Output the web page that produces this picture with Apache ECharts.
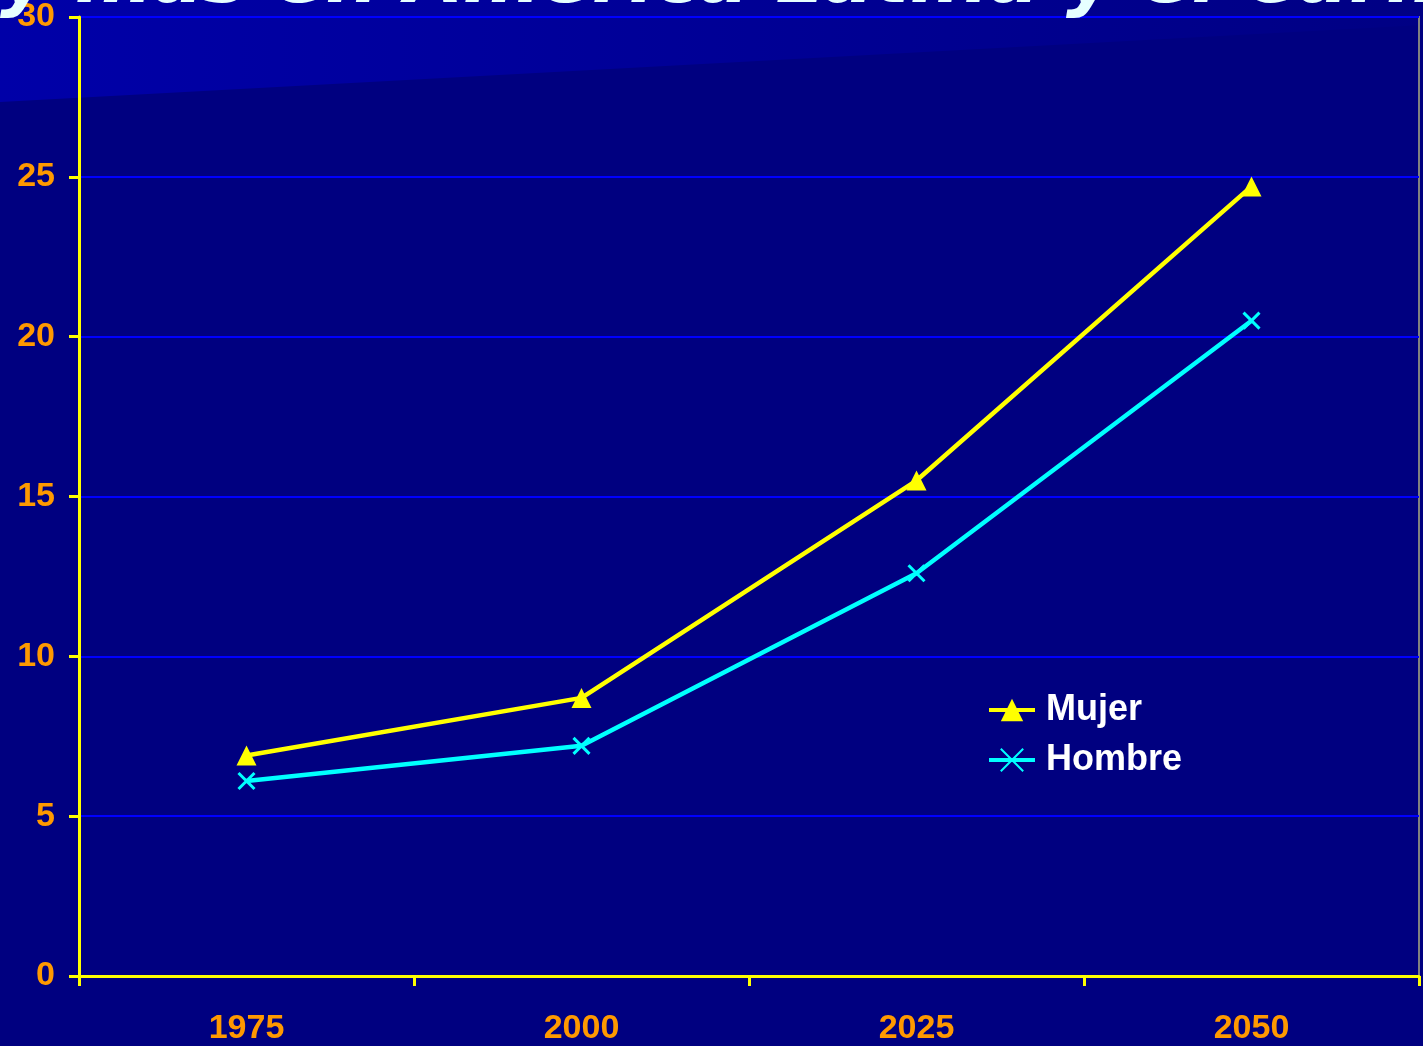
<!DOCTYPE html>
<html>
<head>
<meta charset="utf-8">
<title>Mujer / Hombre</title>
<script src="https://cdn.jsdelivr.net/npm/echarts@6/dist/echarts.min.js"></script>
<style>
  html, body { margin: 0; padding: 0; background: #000080; }
  #chart { width: 1423px; height: 1046px; }
</style>
</head>
<body>
<div id="chart"></div>
<script>
// datos
const years = ['1975', '2000', '2025', '2050']
const mujer = [6.9, 8.7, 15.5, 24.7]
const hombre = [6.1, 7.2, 12.6, 20.5]
const yTicks = [0, 5, 10, 15, 20, 25, 30]

const chart = echarts.init(document.getElementById('chart'))

const labelFont = {
  color: '#ff9900',
  fontSize: 34,
  fontWeight: 'bold',
  fontFamily: 'Liberation Sans, Arial, sans-serif'
}

const option = {
  backgroundColor: '#000080',
  animation: false,
  graphic: [
    {
      // franja clara de la plantilla arriba a la izquierda
      type: 'polygon',
      z: -10,
      silent: true,
      shape: { points: [[0, 0], [1423, 0], [1423, 25], [0, 102]] },
      style: {
        fill: new echarts.graphic.LinearGradient(0, 0, 1, 0, [
          { offset: 0, color: '#0000a8' },
          { offset: 1, color: '#000084' }
        ])
      }
    },
    {
      // titulo de la diapositiva, casi todo fuera de la imagen
      type: 'text',
      z: 100,
      silent: true,
      style: {
        text: 'y más en América Latina y el Caribe',
        x: 0,
        y: -17.5,
        verticalAlign: 'middle',
        font: 'italic bold 75px DejaVu Sans, sans-serif',
        fill: '#e6ffff'
      }
    }
  ],
  grid: {
    left: 79,
    right: 4,
    top: 16,
    bottom: 70,
    show: true,
    borderColor: '#808080',
    borderWidth: 2,
    backgroundColor: 'transparent'
  },
  legend: {
    orient: 'vertical',
    left: 982,
    top: 687,
    itemWidth: 46,
    itemHeight: 28,
    itemGap: 14,
    lineStyle: { width: 4 },
    textStyle: {
      color: '#ffffff',
      fontSize: 36,
      fontWeight: 'bold',
      fontFamily: 'Liberation Sans, Arial, sans-serif',
      padding: [0, 0, 0, 6]
    },
    data: ['Mujer', 'Hombre']
  },
  xAxis: {
    type: 'category',
    data: years,
    boundaryGap: true,
    axisLine: { lineStyle: { color: '#ffff00', width: 3 } },
    axisTick: { show: true, length: 10, lineStyle: { color: '#ffff00', width: 3 } },
    axisLabel: Object.assign({ margin: 36 }, labelFont),
    splitLine: { show: false }
  },
  yAxis: {
    type: 'value',
    min: yTicks[0],
    max: yTicks[yTicks.length - 1],
    interval: 5,
    axisLine: { show: true, lineStyle: { color: '#ffff00', width: 3 } },
    axisTick: { show: true, length: 10, lineStyle: { color: '#ffff00', width: 3 } },
    axisLabel: Object.assign({ margin: 24 }, labelFont),
    splitLine: { show: true, lineStyle: { color: '#0000ff', width: 2 } }
  },
  series: [
    {
      name: 'Mujer',
      type: 'line',
      data: mujer,
      symbol: 'triangle',
      symbolSize: 20,
      lineStyle: { color: '#ffff00', width: 4.5 },
      itemStyle: { color: '#ffff00' },
      z: 3
    },
    {
      name: 'Hombre',
      type: 'line',
      data: hombre,
      symbol: 'path://M0,0L10,10M10,0L0,10',
      symbolSize: 16,
      lineStyle: { color: '#00ffff', width: 4.5 },
      itemStyle: { color: '#00ffff', borderColor: '#00ffff', borderWidth: 3 },
      z: 3
    }
  ]
}

chart.setOption(option)
</script>
</body>
</html>
